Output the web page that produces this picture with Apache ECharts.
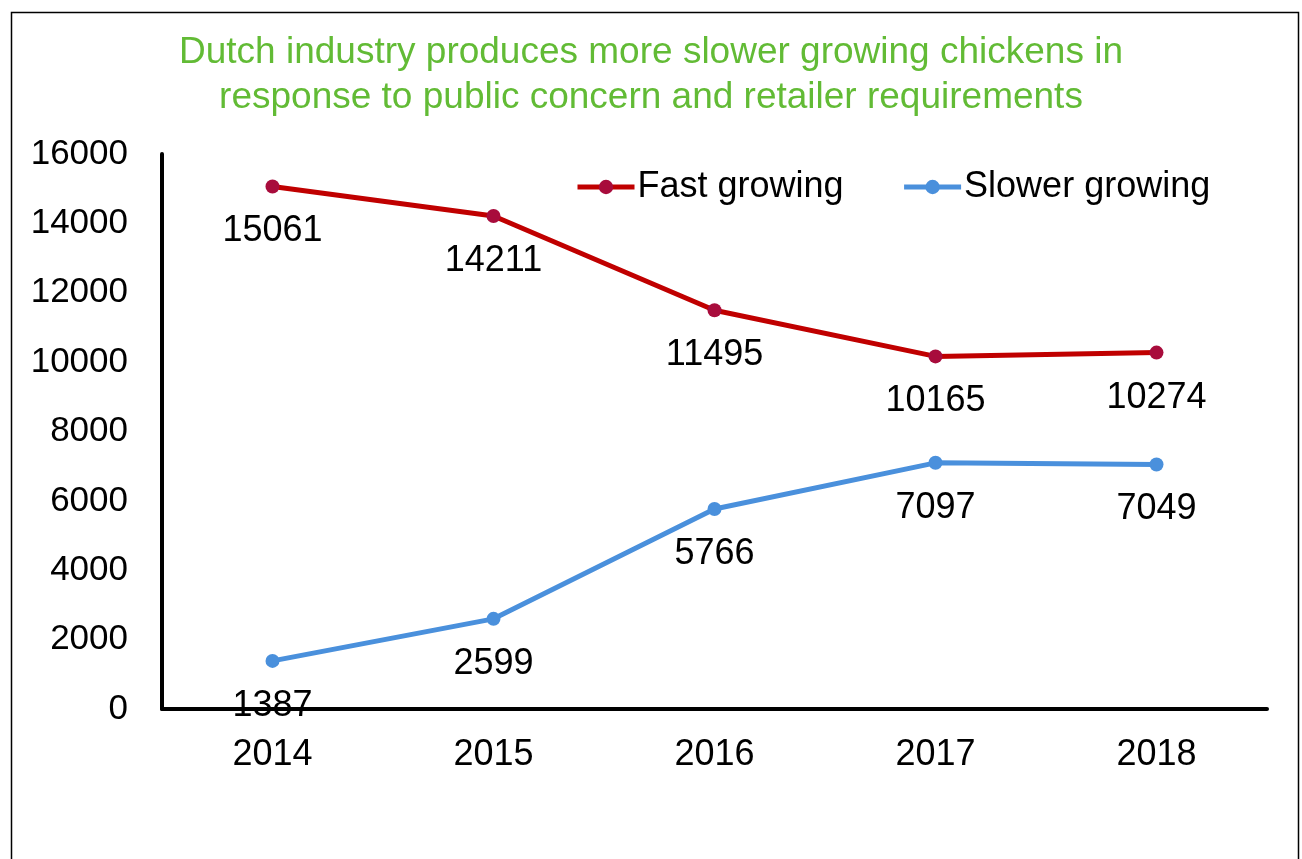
<!DOCTYPE html>
<html>
<head>
<meta charset="utf-8">
<script src="https://cdn.jsdelivr.net/npm/echarts@6/dist/echarts.min.js"></script>
<style>
html,body{margin:0;padding:0;background:#fff;}
#chart{width:1302px;height:859px;}
</style>
</head>
<body>
<div id="chart"></div>
<script>
const titleText = 'Dutch industry produces more slower growing chickens in\nresponse to public concern and retailer requirements';
const years = ['2014', '2015', '2016', '2017', '2018'];
const fastGrowing = [15061, 14211, 11495, 10165, 10274];
const slowerGrowing = [1387, 2599, 5766, 7097, 7049];
const seriesNames = ['Fast growing', 'Slower growing'];

const FONT = "'Liberation Sans', Arial, sans-serif";
const chart = echarts.init(document.getElementById('chart'));
chart.setOption({
  backgroundColor: '#ffffff',
  animation: false,
  title: {
    text: titleText,
    left: 'center',
    top: 25,
    textStyle: { color: '#62BB35', fontSize: 37, fontWeight: 'normal', fontFamily: FONT, lineHeight: 45 }
  },
  graphic: [{
    type: 'rect',
    left: 9, top: 10,
    shape: { width: 1287, height: 900 },
    style: { fill: 'none', stroke: '#000', lineWidth: 1.5 },
    silent: true, z: -1
  }],
  legend: {
    left: 570, top: 164,
    itemWidth: 57, itemHeight: 18, itemGap: 58,
    lineStyle: { width: 5 },
    textStyle: { fontSize: 36, fontFamily: FONT, color: '#000', padding: [0, 0, 0, -2] },
    data: seriesNames
  },
  grid: { left: 162, right: 35, top: 154, bottom: 150, containLabel: false },
  xAxis: {
    type: 'category',
    data: years,
    boundaryGap: true,
    axisLine: { lineStyle: { color: '#000', width: 4 } },
    axisTick: { show: false },
    axisLabel: { fontSize: 36, fontFamily: FONT, color: '#000', margin: 28 }
  },
  yAxis: {
    type: 'value',
    min: 0, max: 16000, interval: 2000,
    axisLine: { show: true, lineStyle: { color: '#000', width: 4 } },
    axisTick: { show: false },
    splitLine: { show: false },
    axisLabel: { fontSize: 35, fontFamily: FONT, color: '#000', margin: 34, formatter: function (v) { return String(v); } }
  },
  series: [
    {
      name: seriesNames[0], type: 'line', data: fastGrowing,
      symbol: 'circle', symbolSize: 14,
      lineStyle: { color: '#C00000', width: 5 },
      itemStyle: { color: '#A80C3C' },
      label: { show: true, position: 'bottom', distance: 20, fontSize: 36, fontFamily: FONT, color: '#000' }
    },
    {
      name: seriesNames[1], type: 'line', data: slowerGrowing,
      symbol: 'circle', symbolSize: 14,
      lineStyle: { color: '#4A90DC', width: 5 },
      itemStyle: { color: '#4A90DC' },
      label: { show: true, position: 'bottom', distance: 20, fontSize: 36, fontFamily: FONT, color: '#000' }
    }
  ]
});
</script>
</body>
</html>
